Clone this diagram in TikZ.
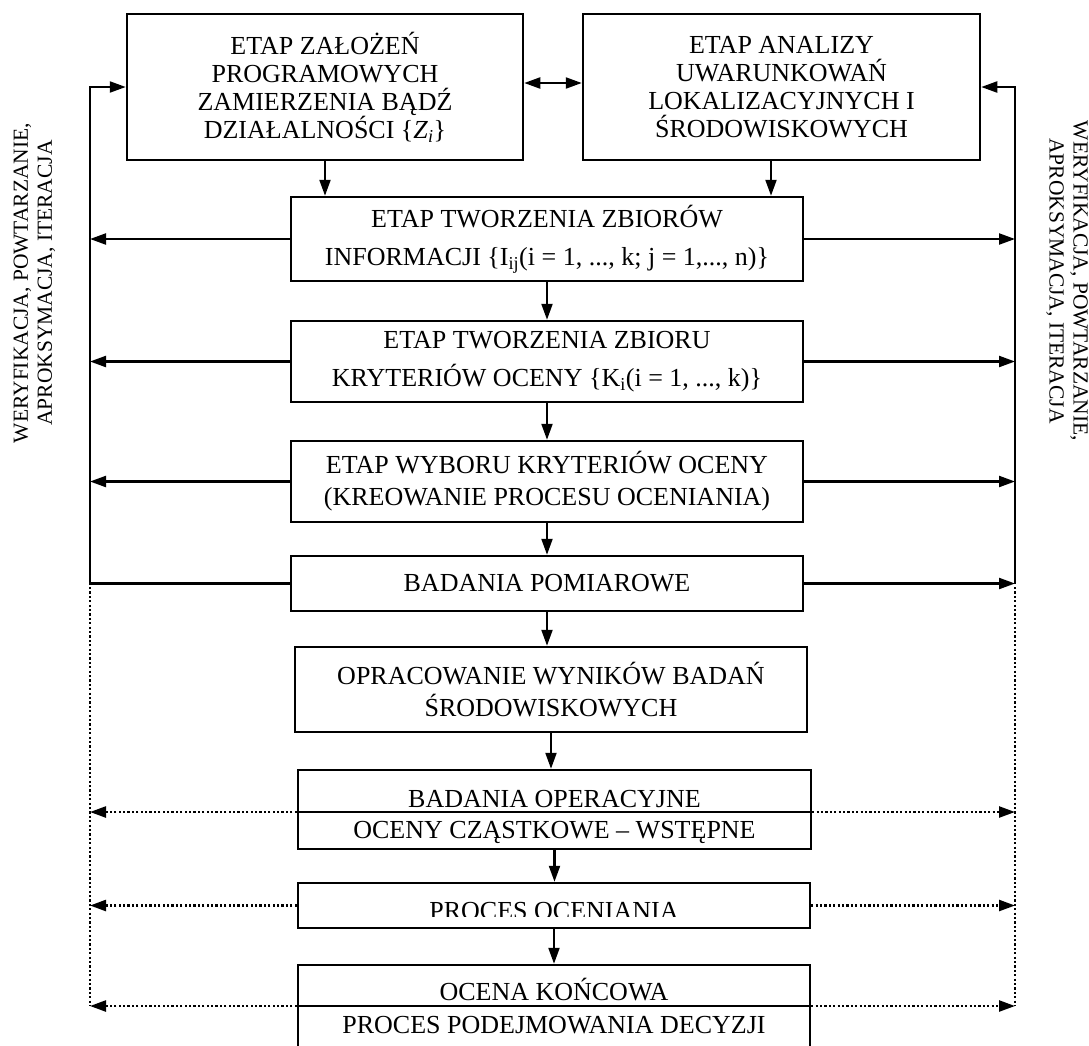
\documentclass[tikz,border=0pt]{standalone}
\usepackage{fontspec}
\setmainfont{Liberation Serif}
\usetikzlibrary{arrows.meta}
% 26pt capitals with a chosen line distance
\newcommand\boxtext[1]{\fontsize{26}{#1}\selectfont}
\begin{document}
\begin{tikzpicture}[x=1pt,y=-1pt,
  box/.style={draw, line width=2.5pt, align=center, inner sep=0pt},
  tip/.tip={Triangle[length=16pt,width=11pt]},
  conn/.style={line width=2.2pt, -tip},
  both/.style={line width=2.2pt, tip-tip},
  rule/.style={line width=2.2pt},
  dotline/.style={line width=2.4pt, dash pattern=on 2.2pt off 2.2pt},
  dotconn/.style={dotline, -tip},
  side/.style={align=center, inner sep=0pt, font=\fontsize{21.5}{24}\selectfont},
  label/.style={anchor=base, inner sep=0pt, font=\boxtext{28}},
]
\useasboundingbox (0,0) rectangle (1089,1045);

% helper coordinates: the two feedback lines and some levels
\coordinate (Lx) at (90,0);
\coordinate (Rx) at (1015,0);
\coordinate (yT) at (0,87);
\coordinate (yD) at (0,83);
\coordinate (dA) at (0,587);
\coordinate (d8) at (0,812);
\coordinate (d10) at (0,1006);

% stages
\node[box, minimum width=396pt, minimum height=146pt, font=\boxtext{28}] (b1) at (325,87)
  {ETAP ZAŁOŻEŃ\\PROGRAMOWYCH\\ZAMIERZENIA BĄDŹ\\DZIAŁALNOŚCI \{\textit{Z}\textsubscript{\textit{i}}\}};
\node[box, minimum width=397pt, minimum height=146pt, font=\boxtext{28}] (b2) at (781.5,87)
  {ETAP ANALIZY\\UWARUNKOWAŃ\\LOKALIZACYJNYCH I\\ŚRODOWISKOWYCH};
\node[box, minimum width=512pt, minimum height=84pt, font=\boxtext{38}] (b3) at (547,239)
  {ETAP TWORZENIA ZBIORÓW\\INFORMACJI \{I\textsubscript{ij}(i = 1, ..., k; j = 1,..., n)\}};
\node[box, minimum width=512pt, minimum height=81pt, font=\boxtext{38}] (b4) at (547,361.5)
  {ETAP TWORZENIA ZBIORU\\KRYTERIÓW OCENY \{K\textsubscript{i}(i = 1, ..., k)\}};
\node[box, minimum width=512pt, minimum height=81pt, font=\boxtext{32}] (b5) at (547,481.5)
  {ETAP WYBORU KRYTERIÓW OCENY\\(KREOWANIE PROCESU OCENIANIA)};
\node[box, minimum width=512pt, minimum height=55pt, font=\boxtext{28}] (b6) at (547,583.5)
  {BADANIA POMIAROWE};
\node[box, minimum width=512pt, minimum height=85pt, font=\boxtext{32}] (b7) at (551,689.5)
  {OPRACOWANIE WYNIKÓW BADAŃ\\ŚRODOWISKOWYCH};
\node[box, minimum width=513pt, minimum height=79pt] (b8) at (554.5,809.5) {};
\node[box, minimum width=512pt, minimum height=45pt] (b9) at (554,905.5) {};
\node[box, minimum width=512pt, minimum height=100pt] (b10) at (554,1015) {};

% split boxes: dividers and their two texts
\draw[rule] (b8.west |- d8) -- (b8.east |- d8);
\draw[rule] (b10.west |- d10) -- (b10.east |- d10);
\node[label] (t8a) at (554.5,807) {BADANIA OPERACYJNE};
\node[label] (t8b) at (554.5,838) {OCENY CZĄSTKOWE – WSTĘPNE};
\begin{scope}
  \clip (298,880) rectangle (811,916.5);
  \node[label] (t9) at (554,919) {PROCES OCENIANIA};
\end{scope}
\node[label] (t10a) at (554,1000) {OCENA KOŃCOWA};
\node[label] (t10b) at (554,1033) {PROCES PODEJMOWANIA DECYZJI};

% side captions
\node[side, rotate=90] (vl) at (34.5,283) {WERYFIKACJA, POWTARZANIE,\\APROKSYMACJA, ITERACJA};
\node[side, rotate=-90] (vr) at (1067,281) {WERYFIKACJA, POWTARZANIE,\\APROKSYMACJA, ITERACJA};

% main flow
\coordinate (b2out) at ([xshift=-10.5pt]b2.south);
\draw[both] (b1.east |- yD) -- (b2.west |- yD);
\draw[conn] (b1.south) -- (b1.south |- b3.north);
\draw[conn] (b2out) -- (b2out |- b3.north);
\draw[conn] (b3.south) -- (b3.south |- b4.north);
\draw[conn] (b4.south) -- (b4.south |- b5.north);
\draw[conn] (b5.south) -- (b5.south |- b6.north);
\draw[conn] (b6.south) -- (b6.south |- b7.north);
\draw[conn] (b7.south) -- (b7.south |- b8.north);
\draw[conn] (b8.south) -- (b8.south |- b9.north);
\draw[conn] (b9.south) -- (b9.south |- b10.north);

% feedback loops
\draw[conn] (b6.west) -- (Lx |- b6.west) -- (Lx |- yT) -- (b1.west |- yT);
\draw[conn] (Rx |- b6.east) -- (Rx |- yT) -- (b2.east |- yT);
\foreach \b in {b3,b4,b5} {
  \draw[conn] (\b.west) -- (Lx |- \b.west);
  \draw[conn] (\b.east) -- (Rx |- \b.east);
}
\draw[conn] (b6.east) -- (Rx |- b6.east);

% dotted loops
\draw[dotline] (Lx |- dA) -- (Lx |- d10);
\draw[dotline] (Rx |- dA) -- (Rx |- d10);
\draw[dotconn] (b8.west |- d8) -- (Lx |- d8);
\draw[dotconn] (b8.east |- d8) -- (Rx |- d8);
\draw[dotconn] (b9.west) -- (Lx |- b9.west);
\draw[dotconn] (b9.east) -- (Rx |- b9.east);
\draw[dotconn] (b10.west |- d10) -- (Lx |- d10);
\draw[dotconn] (b10.east |- d10) -- (Rx |- d10);
\end{tikzpicture}
\end{document}
